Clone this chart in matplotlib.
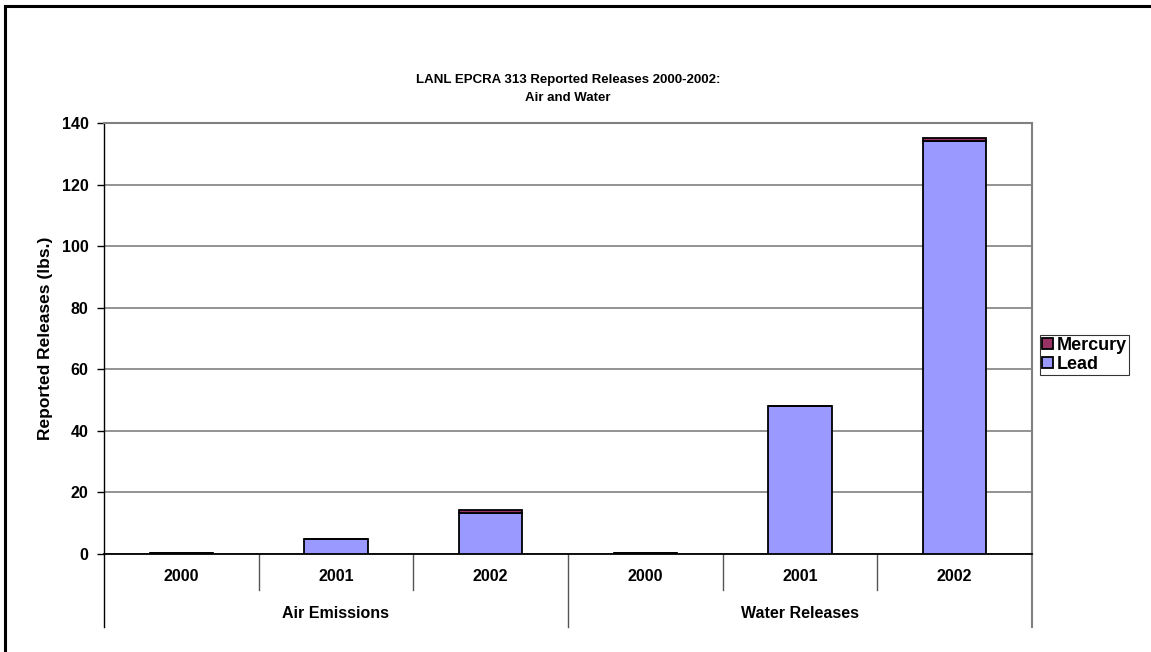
"""
LANL EPCRA 313 reported releases 2000-2002, air and water (stacked bars)
"""

import numpy as np, matplotlib
matplotlib.use("Agg")
import matplotlib.pyplot as plt
from matplotlib.lines import Line2D
from matplotlib.patches import Patch
import matplotlib.transforms as mtransforms

plt.rcParams["font.family"] = ["Liberation Sans", "DejaVu Sans"]
plt.rcParams["font.weight"] = "bold"

years = ["2000", "2001", "2002", "2000", "2001", "2002"]
groups = ["Air Emissions", "Water Releases"]
lead = [0.2, 5.0, 13.3, 0.2, 48.0, 134.0]
mercury = [0.1, 0.0, 0.9, 0.1, 0.0, 1.2]

LEAD_C = "#9999FF"
MERC_C = "#993366"
GRID_C = "#808080"

W, H = 1151, 652
fig = plt.figure(figsize=(W / 100, H / 100), dpi=100)
ax = fig.add_axes([104 / W, 1 - 554 / H, (1032 - 104) / W, (554 - 123) / H])

x = np.arange(len(years))
bw = 0.41
ax.bar(x, lead, bw, color=LEAD_C, edgecolor="black", linewidth=1.3, zorder=3)
ax.bar(x, mercury, bw, bottom=lead, color=MERC_C, edgecolor="black", linewidth=1.3, zorder=3)

ax.set_xlim(-0.5, len(years) - 0.5)
ax.set_ylim(0, 140)
ax.set_yticks(np.arange(0, 141, 20))
ax.yaxis.grid(True, color=GRID_C, linewidth=1.2, zorder=0)
ax.tick_params(axis="y", direction="out", length=5, width=1, labelsize=11.5, pad=6)
ax.set_xticks([])
for lbl in ax.get_yticklabels():
    lbl.set_fontweight("bold")

for s in ["top", "right"]:
    ax.spines[s].set_color(GRID_C)
    ax.spines[s].set_linewidth(1.5)
ax.spines["left"].set_linewidth(1.0)
ax.spines["bottom"].set_linewidth(1.3)

ax.set_ylabel("Reported Releases (lbs.)", fontsize=12.5, fontweight="bold")
ax.yaxis.set_label_coords(-(104 - 53) / 928, 0.5)

# two-level category axis
tr = mtransforms.blended_transform_factory(ax.transData, ax.transAxes)
for xs in [0.5, 1.5, 3.5, 4.5]:
    ax.add_line(Line2D([xs, xs], [0, -0.084], transform=tr, color="#555555", lw=1, clip_on=False))
ax.add_line(Line2D([2.5, 2.5], [0, -0.17], transform=tr, color="#555555", lw=1, clip_on=False))
ax.add_line(Line2D([5.5, 5.5], [0, -0.17], transform=tr, color=GRID_C, lw=1.5, clip_on=False))
ax.add_line(Line2D([-0.5, -0.5], [0, -0.17], transform=tr, color="black", lw=1, clip_on=False))
for xi, yr in zip(x, years):
    ax.text(xi, -0.053, yr, transform=tr, ha="center", va="center", fontsize=11.5, fontweight="bold")
for gi, g in enumerate(groups):
    ax.text(gi * 3 + 1, -0.139, g, transform=tr, ha="center", va="center", fontsize=11.5, fontweight="bold")

fig.text(568 / W, 1 - 80 / H, "LANL EPCRA 313 Reported Releases 2000-2002:", ha="center", va="center",
         fontsize=9.5, fontweight="bold")
fig.text(568 / W, 1 - 98 / H, "Air and Water", ha="center", va="center", fontsize=9.5, fontweight="bold")

handles = [Patch(facecolor=MERC_C, edgecolor="black", linewidth=1.3, label="Mercury"),
           Patch(facecolor=LEAD_C, edgecolor="black", linewidth=1.3, label="Lead")]
leg = fig.legend(handles=handles, loc="center left", bbox_to_anchor=(1040 / W, 1 - 355 / H),
                 fontsize=13, frameon=True, fancybox=False, edgecolor="black",
                 handlelength=0.6, handleheight=0.6, handletextpad=0.2, borderpad=0.12,
                 labelspacing=0.1, borderaxespad=0)
leg.get_frame().set_linewidth(0.8)
for t in leg.get_texts():
    t.set_fontweight("bold")

# outer chart border (only top and left are inside the image)
fig.add_artist(Line2D([5 / W, 5 / W], [1 - 6 / H, -0.1], color="black", lw=2.2, transform=fig.transFigure))
fig.add_artist(Line2D([5 / W, 1.1], [1 - 6 / H, 1 - 6 / H], color="black", lw=2.2, transform=fig.transFigure))

fig.savefig("out.png", dpi=100)
